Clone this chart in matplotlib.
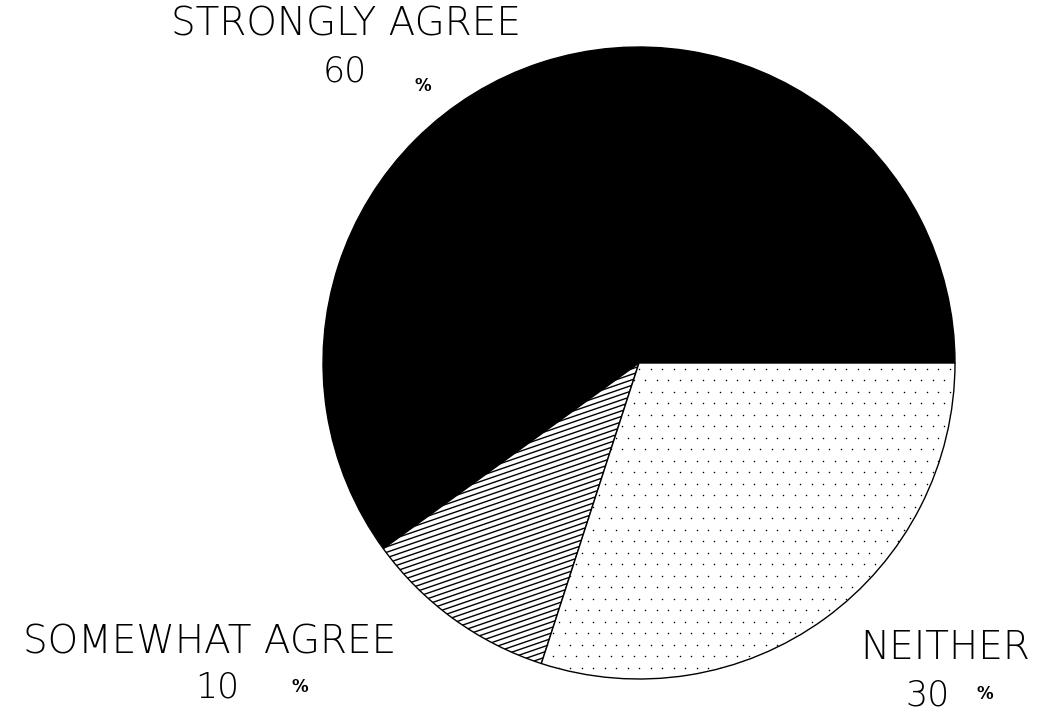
import numpy as np
import matplotlib
matplotlib.use('Agg')
import matplotlib.pyplot as plt

# data
labels = ['STRONGLY AGREE', 'SOMEWHAT AGREE', 'NEITHER']
values = [60, 10, 30]
pct_text = ['60', '10', '30']

fig = plt.figure(figsize=(10.45, 7.14), dpi=100)
ax = fig.add_axes([0, 0, 1, 1])

cx, cy, r = 639, 351, 316
wedges, _ = ax.pie(values, startangle=0, counterclock=True,
                   center=(cx, cy), radius=r, frame=True,
                   colors=['black', 'white', 'white'],
                   wedgeprops=dict(edgecolor='black', linewidth=1.0))
ax.set_xlim(0, 1045)
ax.set_ylim(0, 714)
ax.set_aspect('equal')
ax.axis('off')

# sparse dot texture on the NEITHER slice
gx, gy = np.meshgrid(np.arange(cx - r, cx + r, 11.5), np.arange(cy - r, cy + r, 11.5))
gx[1::2] += 5.75
dots = ax.scatter(gx.ravel(), gy.ravel(), s=1.2, color='black', linewidths=0)
dots.set_clip_path(wedges[2])

# slanted line hatching on the SOMEWHAT AGREE slice
ang = np.deg2rad(19)
d = np.array([np.cos(ang), np.sin(ang)])
nrm = np.array([-d[1], d[0]])
for off in np.arange(-700, 700, 5.2):
    p0 = np.array([cx, cy]) + nrm * off - d * 700
    p1 = np.array([cx, cy]) + nrm * off + d * 700
    ln, = ax.plot([p0[0], p1[0]], [p0[1], p1[1]], color='black', lw=1.0)
    ln.set_clip_path(wedges[1])

font = dict(family='DejaVu Sans', weight='light', color='black')
ax.text(346, 689, labels[0], ha='center', va='center', fontsize=28, **font)
ax.text(345, 643, pct_text[0], ha='center', va='center', fontsize=25, **font)
ax.text(423, 628, '%', ha='center', va='center', fontsize=12, fontweight='bold')

ax.text(210, 71, labels[1], ha='center', va='center', fontsize=28, **font)
ax.text(217, 27, pct_text[1], ha='center', va='center', fontsize=25, **font)
ax.text(300, 27, '%', ha='center', va='center', fontsize=12, fontweight='bold')

ax.text(945, 66, labels[2], ha='center', va='center', fontsize=28, **font)
ax.text(928, 18, pct_text[2], ha='center', va='center', fontsize=25, **font)
ax.text(985, 20, '%', ha='center', va='center', fontsize=12, fontweight='bold')

fig.savefig('out.png', dpi=100, facecolor='white')
